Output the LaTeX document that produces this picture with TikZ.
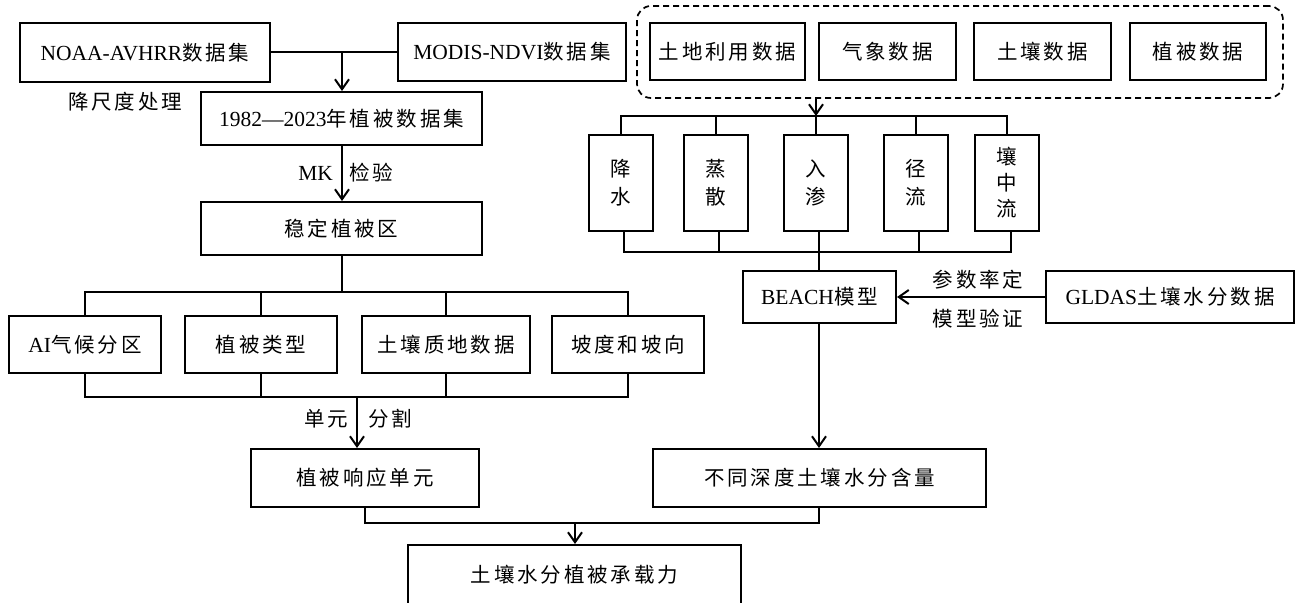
\documentclass[tikz,border=0pt]{standalone}
\usepackage{fontspec}
\setmainfont{Liberation Serif}
\newfontfamily\cjk[LetterSpace=14]{Noto Sans CJK SC}
\newcommand\latin{\fontsize{21.5}{26}\selectfont\rmfamily}
\usetikzlibrary{arrows.meta}
\begin{document}
\begin{tikzpicture}[x=1pt,y=-1pt,line width=2pt,
  >={Straight Barb[length=10pt,width=14pt]},
  box/.style={draw,inner sep=0pt,align=center,font=\fontsize{20.5}{26}\selectfont\cjk},
  lbl/.style={inner sep=0pt,font=\fontsize{20.5}{26}\selectfont\cjk},
  dashbox/.style={draw,line width=1.7pt,dashed,dash pattern=on 6pt off 4pt,rounded corners=14pt,inner sep=0pt}]
\useasboundingbox[fill=white] (0,0) rectangle (1300,602);
% top left
\node[box,minimum width=250pt,minimum height=59pt] (noaa) at (145,52.5) {{\latin NOAA-AVHRR}数据集};
\node[box,minimum width=228pt,minimum height=58pt] (modis) at (512,52) {{\latin MODIS-NDVI}数据集};
\node[box,minimum width=281pt,minimum height=53pt] (d1982) at (341.5,118.5) {{\latin 1982—2023}年植被数据集};
\node[lbl] (jcd) at (125,102) {降尺度处理};
\node[box,minimum width=281pt,minimum height=53pt] (stable) at (341.5,228.5) {稳定植被区};
\node[lbl,anchor=east] (mk) at (334,173) {\latin MK};
\node[lbl,anchor=west] (jy) at (348,173) {检验};
\node[box,minimum width=152pt,minimum height=57pt] (ai) at (85,344.5) {{\latin AI}气候分区};
\node[box,minimum width=152pt,minimum height=57pt] (vtype) at (261,344.5) {植被类型};
\node[box,minimum width=168pt,minimum height=57pt] (soiltex) at (446,344.5) {土壤质地数据};
\node[box,minimum width=152pt,minimum height=57pt] (slope) at (628,344.5) {坡度和坡向};
\node[lbl,anchor=east] (dy) at (349,419) {单元};
\node[lbl,anchor=west] (fg) at (367,419) {分割};
\node[box,minimum width=228pt,minimum height=58pt] (resp) at (365,478) {植被响应单元};
% top right
\node[dashbox,minimum width=646pt,minimum height=92pt] (grp) at (960,52) {};
\node[box,minimum width=155pt,minimum height=57pt] (land) at (727.5,51.5) {土地利用数据};
\node[box,minimum width=137pt,minimum height=57pt] (weather) at (887.5,51.5) {气象数据};
\node[box,minimum width=137pt,minimum height=57pt] (soil) at (1042.5,51.5) {土壤数据};
\node[box,minimum width=136pt,minimum height=57pt] (veg) at (1198,51.5) {植被数据};
\node[box,minimum width=64pt,minimum height=96pt] (rain) at (621,183) {降\\[2pt]水};
\node[box,minimum width=64pt,minimum height=96pt] (evap) at (716,183) {蒸\\[2pt]散};
\node[box,minimum width=64pt,minimum height=96pt] (infil) at (816,183) {入\\[2pt]渗};
\node[box,minimum width=64pt,minimum height=96pt] (runoff) at (916,183) {径\\[2pt]流};
\node[box,minimum width=64pt,minimum height=96pt] (inter) at (1007,183) {壤\\中\\流};
\node[box,minimum width=153pt,minimum height=52pt] (beach) at (819.5,297) {{\latin BEACH}模型};
\node[box,minimum width=248pt,minimum height=52pt] (gldas) at (1170,297) {{\latin GLDAS}土壤水分数据};
\node[lbl] (cs) at (978,280) {参数率定};
\node[lbl] (yz) at (978,319) {模型验证};
\node[box,minimum width=333pt,minimum height=58pt] (diff) at (819.5,478) {不同深度土壤水分含量};
\node[box,minimum width=333pt,minimum height=60pt] (final) at (574.5,575) {土壤水分植被承载力};
% coordinates of junctions and bus lines
\coordinate (j1) at (342,52);
\coordinate (b1) at (342,292);
\coordinate (b2) at (357,397);
\coordinate (b3) at (816,116);
\coordinate (b4) at (819,252);
\coordinate (b5) at (575,523);
% left connectors
\draw (noaa.east |- j1) -- (modis.west |- j1);
\draw[->] (j1) -- (j1 |- d1982.north);
\draw[->] (j1 |- d1982.south) -- (j1 |- stable.north);
\draw (j1 |- stable.south) -- (b1);
\draw (ai.north) -- (ai.north |- b1) -- (slope.north |- b1) -- (slope.north);
\draw (vtype.north) -- (vtype.north |- b1);
\draw (soiltex.north) -- (soiltex.north |- b1);
\draw (ai.south) -- (ai.south |- b2) -- (slope.south |- b2) -- (slope.south);
\draw (vtype.south) -- (vtype.south |- b2);
\draw (soiltex.south) -- (soiltex.south |- b2);
\draw[->] (b2) -- (b2 |- resp.north);
% right connectors
\draw[->] (b3 |- grp.south) -- (b3);
\draw (rain.north) -- (rain.north |- b3) -- (inter.north |- b3) -- (inter.north);
\draw (evap.north) -- (evap.north |- b3);
\draw (infil.north) -- (b3);
\draw (runoff.north) -- (runoff.north |- b3);
\draw ([xshift=3pt]rain.south) -- ([xshift=3pt]rain.south |- b4) -- ([xshift=4pt]inter.south |- b4) -- ([xshift=4pt]inter.south);
\draw ([xshift=3pt]evap.south) -- ([xshift=3pt]evap.south |- b4);
\draw ([xshift=3pt]infil.south) -- ([xshift=3pt]infil.south |- b4);
\draw ([xshift=3pt]runoff.south) -- ([xshift=3pt]runoff.south |- b4);
\draw (b4) -- (b4 |- beach.north);
\draw[->] (gldas.west) -- (beach.east);
\draw[->] (b4 |- beach.south) -- (b4 |- diff.north);
% bottom
\draw (resp.south) -- (resp.south |- b5) -- (b4 |- b5) -- (b4 |- diff.south);
\draw[->] (b5) -- (b5 |- final.north);
\end{tikzpicture}
\end{document}
